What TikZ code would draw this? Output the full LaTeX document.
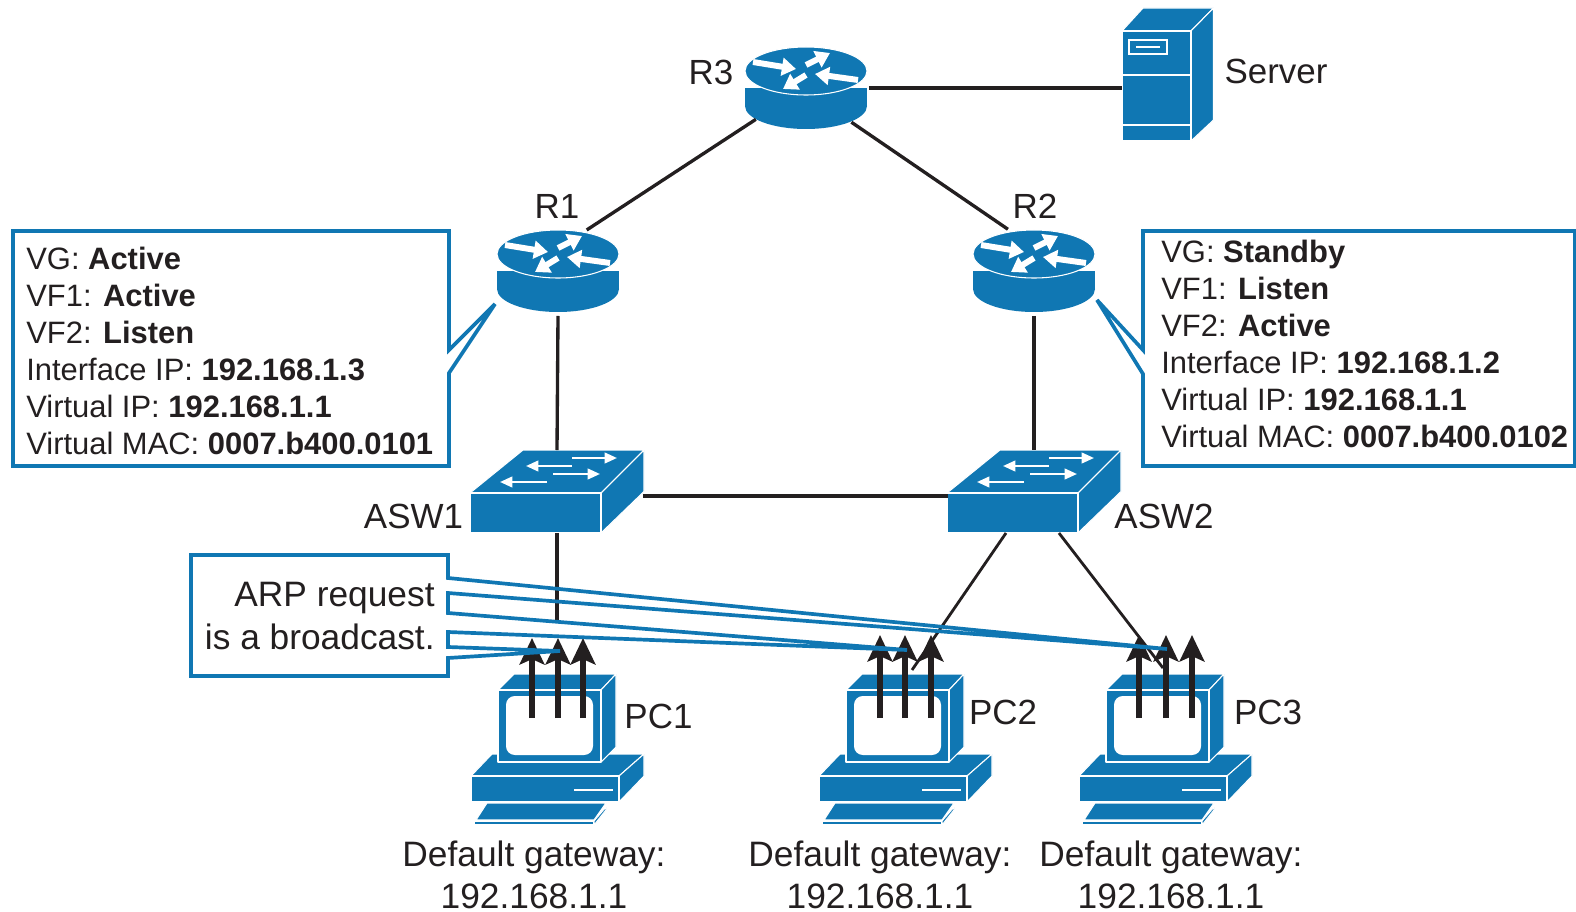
\documentclass[tikz,border=0pt]{standalone}
\usepackage{fontspec}
\setmainfont{Liberation Sans}
\usetikzlibrary{arrows.meta,shapes.geometric}
\definecolor{ciscoblue}{HTML}{1077B3}
\definecolor{inkblack}{HTML}{231F20}
\tikzset{
	link/.style={draw=inkblack, line width=1.9pt},
	flow/.style={draw=inkblack, line width=3.1pt, -{Stealth[length=15pt,width=14pt,inset=3pt]}},
	callout/.style={draw=ciscoblue, line width=2.1pt, line join=miter},
	devicetext/.style={font=\fontsize{19.9}{24}\selectfont, text=inkblack, inner sep=0pt},
	widetext/.style={font=\fontsize{20.1}{24}\selectfont, text=inkblack, inner sep=0pt},
	infotext/.style={font=\fontsize{17.6}{21.1}\selectfont, text=inkblack, inner sep=0pt, align=left, anchor=west},
	routerbox/.style={ellipse, minimum width=2.8cm, minimum height=1.8cm, inner sep=0pt, outer sep=0pt},
	switchbox/.style={rectangle, minimum width=3.44cm, minimum height=1.66cm, inner sep=0pt, outer sep=0pt},
	serverbox/.style={rectangle, minimum width=1.82cm, minimum height=2.66cm, inner sep=0pt, outer sep=0pt},
	pcbox/.style={rectangle, minimum width=3.38cm, minimum height=3.02cm, inner sep=0pt, outer sep=0pt},
	face/.style={fill=ciscoblue, draw=white, line width=0.6pt, line join=round},
	router/.pic={
		\fill[ciscoblue] (-61,0) rectangle (61,18);
		\fill[ciscoblue] (0,18) ellipse [x radius=61, y radius=23];
		\filldraw[face] (0,-17) ellipse [x radius=61, y radius=24];
		\foreach \a\b\c\d in {-53/-26/-10/-19, 0/-23/24/-35, 52/-8/9/-14, 0/-13/-23/1}{
			\draw[white, line width=3.4pt, -{Triangle[length=8pt,width=10pt]}] (\a,\b) -- (\c,\d);
		}
	},
	switch/.pic={
		\filldraw[face] (-87,1.5) -- (-34,-41.5) -- (87,-41.5) -- (44,1.5) -- cycle;
		\filldraw[face] (44,1.5) -- (87,-41.5) -- (87,0) -- (44,41.5) -- cycle;
		\filldraw[face] (-87,1.5) rectangle (44,41.5);
		\foreach \a\b\c in {15/60/-33.5, 15/-31/-25.5, -4/43/-17.5, -10/-57/-9.5}{
			\draw[white, line width=1.3pt, -{Triangle[length=7pt,width=6pt]}] (\a,\c) -- (\b,\c);
		}
	},
	server/.pic={
		\filldraw[face] (-45.5,-43.5) -- (-24.5,-66.5) -- (46,-66.5) -- (23.5,-43.5) -- cycle;
		\filldraw[face] (23.5,-43.5) -- (46,-66.5) -- (46,45.5) -- (23.5,66.5) -- cycle;
		\filldraw[face] (-45.5,-43.5) rectangle (23.5,66.5);
		\draw[white, line width=1pt] (-45.5,0.5) -- (23.5,0.5);
		\draw[white, line width=1pt] (-45.5,50.5) -- (23.5,50.5);
		\draw[white, line width=1pt] (-38.5,-34.5) rectangle (-0.5,-20.5);
		\draw[white, line width=1pt] (-31.5,-27.5) -- (-7.5,-27.5);
	},
	pc/.pic={
		\filldraw[face] (-86,26) -- (-65,4) -- (87,4) -- (62,26) -- cycle;
		\filldraw[face] (62,26) -- (87,4) -- (87,26) -- (62,52) -- cycle;
		\filldraw[face] (-86,26) rectangle (62,52);
		\draw[white, line width=1.4pt] (17,40) -- (56,40);
		\filldraw[face] (-70,53) -- (49,53) -- (37,70) -- (-81,70) -- cycle;
		\filldraw[face] (-83,71) rectangle (37,75);
		\filldraw[face] (37,71) -- (49,57) -- (49,60) -- (37,75) -- cycle;
		\filldraw[face] (-59,-60) -- (-43,-76) -- (59,-76) -- (44,-60) -- cycle;
		\filldraw[face] (44,-60) -- (59,-76) -- (59,-3) -- (44,12) -- cycle;
		\filldraw[face] (-59,-60) rectangle (44,12);
		\fill[white, rounded corners=5pt] (-51,-54) rectangle (36,5);
	},
}
\begin{document}
\begin{tikzpicture}[x=0.02cm, y=-0.02cm]
	\useasboundingbox (0,0) rectangle (1576,912);
	% devices
	\node[routerbox] (R3) at (806,88) {};
	\node[routerbox] (R1) at (558,271) {};
	\node[routerbox] (R2) at (1034,271) {};
	\node[switchbox] (ASW1) at (557,491.5) {};
	\node[switchbox] (ASW2) at (1034,491.5) {};
	\node[serverbox] (Server) at (1167.5,74.5) {};
	\node[pcbox] (PC1) at (557,750) {};
	\node[pcbox] (PC2) at (905,750) {};
	\node[pcbox] (PC3) at (1165,750) {};
	\pic at (R3) {router};
	\pic at (R1) {router};
	\pic at (R2) {router};
	\pic at (ASW1) {switch};
	\pic at (ASW2) {switch};
	\pic at (Server) {server};
	\pic at (PC1) {pc};
	\pic at (PC2) {pc};
	\pic at (PC3) {pc};
	% links
	\coordinate (PC1up) at (557,622);
	\coordinate (PC2up) at (912,670);
	\coordinate (PC3up) at (1163,668);
	\draw[link, shorten <=-4pt] (R3.east) -- (R3.east -| Server.west);
	\draw[link] (R3.212.7) -- (R1.55);
	\draw[link] (R3.-37) -- (R2.122);
	\draw[link] (R1.south) -- (ASW1.north);
	\draw[link] (R2.south) -- (ASW2.north);
	\draw[link] (ASW1.-3.3) -- (ASW1.-3.3 -| ASW2.west);
	\draw[link] (ASW1.south) -- (PC1up);
	\draw[link, line width=1.6pt] (ASW2.236) -- (PC2up);
	\draw[link, line width=1.6pt] (ASW2.301) -- (PC3up);
	% frames going up from the PCs
	\foreach \n\x\t in {a/532/638,b/558/638,c/583/638,d/880/635,e/905/635,f/931/635,g/1139/635,h/1166/635,i/1192/635}{
		\coordinate (tail\n) at (\x,718);
		\coordinate (tip\n) at (\x,\t);
		\draw[flow] (tail\n) -- (tip\n);
	}
	% callouts
	\draw[callout] (449,350) -- (495,304) -- (449,373) -- (449,466) -- (13,466) -- (13,231) -- (449,231) -- cycle;
	\draw[callout] (1143,350) -- (1097,300) -- (1143,374) -- (1143,466) -- (1575,466) -- (1575,231) -- (1143,231) -- cycle;
	\draw[callout] (191,555) -- (448,555) -- (448,578) -- (1167,649) -- (448,593) -- (448,613) -- (907,650) -- (448,632) -- (448,647) -- (560,651) -- (448,658) -- (448,676) -- (191,676) -- cycle;
	% texts
	\node[infotext] (R1info) at (26,351) {VG: \textbf{Active}\\VF1: \textbf{Active}\\VF2: \textbf{Listen}\\Interface IP: \textbf{192.168.1.3}\\Virtual IP: \textbf{192.168.1.1}\\Virtual MAC: \textbf{0007.b400.0101}};
	\node[infotext] (R2info) at (1161,344) {VG: \textbf{Standby}\\VF1: \textbf{Listen}\\VF2: \textbf{Active}\\Interface IP: \textbf{192.168.1.2}\\Virtual IP: \textbf{192.168.1.1}\\Virtual MAC: \textbf{0007.b400.0102}};
	\node[widetext, align=right, anchor=east] (ARPinfo) at (435,616) {ARP request\\is a broadcast.};
	\foreach \n\x\y in {R3/711/72,R1/557/206,R2/1035/206,Server/1276/71,ASW1/413.5/516,ASW2/1164/516,PC1/658.5/716,PC2/1003/712,PC3/1268/712}{
		\node[devicetext] (\n text) at (\x,\y) {\n};
	}
	\foreach \n\x in {a/534,b/880,c/1171}{
		\node[widetext, align=center] (gateway\n) at (\x,875) {Default gateway:\\192.168.1.1};
	}
\end{tikzpicture}
\end{document}
